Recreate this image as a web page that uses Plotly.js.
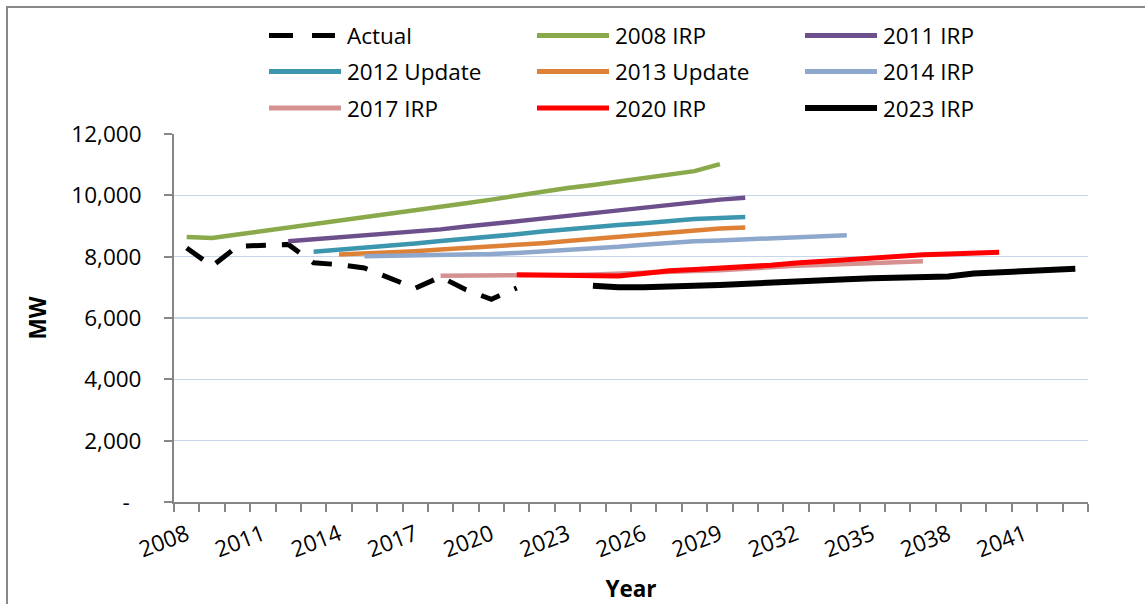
<!DOCTYPE html>
<html>
<head>
<meta charset="utf-8">
<script src="https://cdn.plot.ly/plotly-3.0.1.min.js"></script>
<style>
  html, body { margin: 0; padding: 0; background: #fff; }
  #chart { width: 1145px; height: 604px; }
</style>
</head>
<body>
<div id="chart"></div>
<script>
// ---- Data ----
const seriesNames = ["Actual", "2008 IRP", "2011 IRP", "2012 Update", "2013 Update", "2014 IRP", "2017 IRP", "2020 IRP", "2023 IRP"];
const seriesStart = [2008, 2008, 2012, 2013, 2014, 2015, 2018, 2021, 2024];

const actual     = [8285, 7690, 8340, 8380, 8400, 7800, 7740, 7630, 7300, 6970, 7340, 6920, 6610, 6980];
const irp2008    = [8640, 8610, 8720, 8830, 8940, 9050, 9160, 9270, 9390, 9500, 9620, 9740, 9860, 9990, 10120, 10240, 10340, 10450, 10560, 10670, 10790, 11020];
const irp2011    = [8500, 8560, 8620, 8680, 8740, 8810, 8890, 8980, 9060, 9150, 9240, 9330, 9420, 9510, 9600, 9690, 9780, 9860, 9920];
const upd2012    = [8160, 8220, 8290, 8350, 8430, 8510, 8580, 8640, 8730, 8820, 8900, 8970, 9030, 9090, 9170, 9230, 9260, 9290];
const upd2013    = [8070, 8100, 8140, 8180, 8230, 8280, 8320, 8390, 8440, 8510, 8580, 8640, 8700, 8800, 8870, 8920, 8950];
const irp2014    = [8010, 8020, 8030, 8050, 8070, 8085, 8120, 8165, 8220, 8270, 8320, 8390, 8460, 8500, 8530, 8560, 8600, 8640, 8670, 8700];
const irp2017    = [7380, 7380, 7380, 7380, 7390, 7400, 7420, 7440, 7470, 7500, 7530, 7560, 7610, 7670, 7700, 7730, 7760, 7790, 7820, 7850];
const irp2020    = [7410, 7390, 7380, 7370, 7370, 7450, 7540, 7580, 7620, 7670, 7720, 7790, 7850, 7910, 7960, 8010, 8060, 8090, 8120, 8140];
const irp2023    = [7050, 7000, 7000, 7010, 7050, 7080, 7110, 7130, 7160, 7220, 7260, 7300, 7320, 7330, 7350, 7450, 7490, 7530, 7570, 7610];

const yTickVals  = [0, 2000, 4000, 6000, 8000, 10000, 12000];
const yTickText  = ["-\u00a0\u00a0", "2,000", "4,000", "6,000", "8,000", "10,000", "12,000"];
const xTickVals  = [2008, 2011, 2014, 2017, 2020, 2023, 2026, 2029, 2032, 2035, 2038, 2041];
const xTickText  = ["2008", "2011", "2014", "2017", "2020", "2023", "2026", "2029", "2032", "2035", "2038", "2041"];

// ---- Styles ----
const seriesValues = [actual, irp2008, irp2011, upd2012, upd2013, irp2014, irp2017, irp2020, irp2023];
const colors = ["#000000", "#89A94B", "#6D4F8B", "#3C96AE", "#DD8137", "#8EA8CD", "#D59190", "#FF0000", "#000000"];
const widths = [5, 4.5, 4.5, 4.5, 4.5, 4.5, 4.5, 5, 6];
const dashes = ["20px,16px", "solid", "solid", "solid", "solid", "solid", "solid", "solid", "solid"];

const FONT = "'Open Sans', Lato, sans-serif";
const FS = 22.5;

const traces = seriesValues.map((vals, i) => ({
  type: "scatter",
  mode: "lines",
  name: seriesNames[i],
  x: vals.map((_, k) => seriesStart[i] + k),
  y: vals,
  line: { color: colors[i], width: widths[i], dash: dashes[i], shape: "linear" },
  showlegend: false,
  hoverinfo: "x+y+name"
}));

// plot box in pixels
const L = 174, R = 1088, T = 134, B = 502;
const px2x = p => (p - L) / (R - L);
const px2y = p => (B - p) / (B - T);

// custom legend: 3 columns x 3 rows
const legendCols = [269, 537, 805];
const legendRows = [35.5, 71.5, 108];
const shapes = [];
const annotations = [];
seriesNames.forEach((name, i) => {
  const c = i % 3, r = Math.floor(i / 3);
  const x0 = legendCols[c], x1 = x0 + 72, y = legendRows[r];
  if (i === 0) {
    shapes.push({ type: "line", xref: "paper", yref: "paper", x0: px2x(x0), x1: px2x(x0 + 24), y0: px2y(y), y1: px2y(y),
      line: { color: colors[i], width: 5 } });
    shapes.push({ type: "line", xref: "paper", yref: "paper", x0: px2x(x0 + 43), x1: px2x(x0 + 66), y0: px2y(y), y1: px2y(y),
      line: { color: colors[i], width: 5 } });
  } else {
    shapes.push({ type: "line", xref: "paper", yref: "paper", x0: px2x(x0), x1: px2x(x1), y0: px2y(y), y1: px2y(y),
      line: { color: colors[i], width: widths[i] === 6 ? 6 : 5 } });
  }
  annotations.push({ xref: "paper", yref: "paper", x: px2x(x0 + 76), y: px2y(y), text: name, showarrow: false,
    xanchor: "left", yanchor: "middle", font: { family: FONT, size: FS, color: "#000" } });
});

// outer chart border (left/top visible)
shapes.push({ type: "rect", xref: "paper", yref: "paper", x0: px2x(7), x1: px2x(1170), y0: px2y(630), y1: px2y(7),
  line: { color: "#888888", width: 2 }, fillcolor: "rgba(0,0,0,0)", layer: "below" });

const layout = {
  width: 1145, height: 604,
  margin: { l: L, r: 1145 - R, t: T, b: 604 - B, pad: 0 },
  paper_bgcolor: "#ffffff", plot_bgcolor: "#ffffff",
  font: { family: FONT, size: FS, color: "#000" },
  showlegend: false,
  xaxis: {
    range: [2007.5, 2043.5],
    tickvals: xTickVals, ticktext: xTickText,
    tickangle: -21,
    ticks: "", showgrid: false, zeroline: false,
    showline: true, linecolor: "#868686", linewidth: 2,
    ticklabelstandoff: 9,
    tickfont: { family: FONT, size: FS, color: "#000" },
    minor: { ticks: "outside", tick0: 2007.5, dtick: 1, ticklen: 8, tickwidth: 2, tickcolor: "#868686", showgrid: false },
    title: { text: "<b>Year</b>", font: { family: FONT, size: FS, color: "#000" }, standoff: 19 },
    fixedrange: true
  },
  yaxis: {
    range: [0, 12000],
    tickvals: yTickVals, ticktext: yTickText,
    ticks: "outside", ticklen: 8, tickwidth: 2, tickcolor: "#868686",
    ticklabelstandoff: 18,
    showgrid: true, gridcolor: "#C8D6EA", gridwidth: 1.5,
    zeroline: false,
    showline: true, linecolor: "#868686", linewidth: 2,
    tickfont: { family: FONT, size: FS, color: "#000" },
    title: { text: "<b>MW</b>", font: { family: FONT, size: FS, color: "#000" }, standoff: 18 },
    fixedrange: true
  },
  shapes: shapes,
  annotations: annotations
};

Plotly.newPlot("chart", traces, layout, { displayModeBar: false, staticPlot: true });
</script>
</body>
</html>
